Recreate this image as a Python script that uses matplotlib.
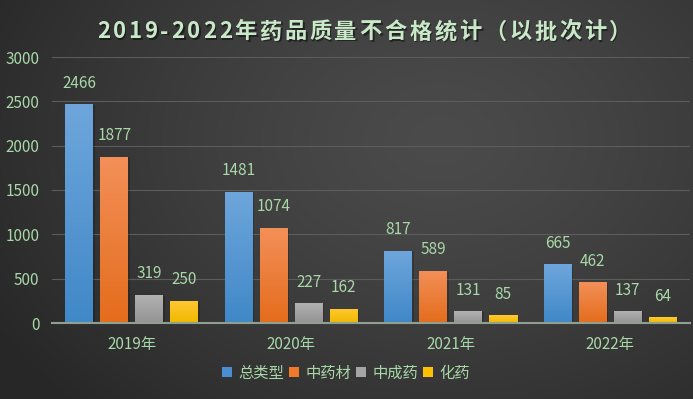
import numpy as np
import matplotlib
matplotlib.use("Agg")
import matplotlib.pyplot as plt
from matplotlib.colors import LinearSegmentedColormap
from matplotlib.patches import Rectangle

plt.rcParams['font.family'] = ['Noto Sans CJK SC', 'DejaVu Sans']

years = ["2019年", "2020年", "2021年", "2022年"]
series_names = ["总类型", "中药材", "中成药", "化药"]
values = {
    "总类型": [2466, 1481, 817, 665],
    "中药材": [1877, 1074, 589, 462],
    "中成药": [319, 227, 131, 137],
    "化药": [250, 162, 85, 64],
}
yticks = [0, 500, 1000, 1500, 2000, 2500, 3000]
title = "2019-2022年药品质量不合格统计（以批次计）"

grad_colors = {
    "总类型": ("#6ea6dc", "#4088c8"),
    "中药材": ("#f39059", "#e46c1c"),
    "中成药": ("#b3b3b3", "#939393"),
    "化药": ("#ffc933", "#f0b800"),
}
legend_colors = {"总类型": "#4a8ed0", "中药材": "#ee7a2a", "中成药": "#a5a5a5", "化药": "#ffc000"}
txt_color = "#a8d8a8"
fs = 11

W, H = 693, 399
fig = plt.figure(figsize=(W / 100, H / 100), dpi=100)

# background radial gradient
bg = fig.add_axes([0, 0, 1, 1])
yy, xx = np.mgrid[0:H, 0:W]
r = np.sqrt(((xx - 440) / 520.0) ** 2 + ((yy - 140) / 380.0) ** 2)
r = np.clip(r, 0, 1)
c0, c1 = 0x4b / 255, 0x27 / 255
g = c0 + (c1 - c0) * r ** 1.3
bg.imshow(np.dstack([g, g, g]), extent=[0, 1, 0, 1], aspect='auto', origin='upper')
bg.set_xlim(0, 1); bg.set_ylim(0, 1)
bg.axis('off')

left, right = 52 / W, 690 / W
bottom, top = 1 - 323 / H, 1 - 57 / H
ax = fig.add_axes([left, bottom, right - left, top - bottom])
ax.patch.set_alpha(0)

n = len(series_names)
step = 35 / 159.5
width = 28 / 159.5
x = np.arange(len(years))
ax.set_xlim(-0.5, len(years) - 0.5)
ax.set_ylim(0, 3000)

grad = np.linspace(0, 1, 256).reshape(-1, 1)
for i, name in enumerate(series_names):
    offs = (i - (n - 1) / 2) * step
    ctop, cbot = grad_colors[name]
    cmap = LinearSegmentedColormap.from_list(name, [cbot, ctop])
    bars = ax.bar(x + offs, values[name], width=width, color=legend_colors[name],
                  zorder=3, label=name)
    for b, v in zip(bars, values[name]):
        bx, bw, bh = b.get_x(), b.get_width(), b.get_height()
        sh = Rectangle((bx + 0.01, 0), bw, max(bh - 10, 0), facecolor='black', alpha=0.18,
                       zorder=2, edgecolor='none')
        ax.add_patch(sh)
        im = ax.imshow(grad, cmap=cmap, extent=[bx, bx + bw, 0, bh], origin='lower',
                       aspect='auto', zorder=3.5)
        im.set_clip_path(b)
        ax.annotate(f"{v}", (bx + bw / 2, bh), xytext=(0, 15), textcoords='offset points',
                    ha='center', va='center', color=txt_color, fontsize=fs, zorder=5)

ax.set_xlim(-0.5, len(years) - 0.5)
ax.set_ylim(0, 3000)
ax.set_yticks(yticks)
ax.set_yticklabels([str(t) for t in yticks], color=txt_color, fontsize=fs)
ax.set_xticks(x)
ax.set_xticklabels(years, color=txt_color, fontsize=fs)
ax.tick_params(axis='y', length=0, pad=9)
ax.tick_params(axis='x', length=0, pad=9)
ax.grid(axis='y', color='#5c5c5c', linewidth=0.8, zorder=0)
for s in ['top', 'right', 'left']:
    ax.spines[s].set_visible(False)
ax.spines['bottom'].set_color('#8fa08f')
ax.spines['bottom'].set_linewidth(1.5)
ax.spines['bottom'].set_zorder(4)

# title with letter spacing and shadow
renderer = fig.canvas.get_renderer()
tfs = 16
spacing = 2.7  # px
widths = []
for ch in title:
    t = fig.text(0, 0, ch, fontsize=tfs, fontweight='bold')
    bb = t.get_window_extent(renderer)
    widths.append(bb.width)
    t.remove()
total = sum(widths) + spacing * (len(title) - 1)
cx = 364
ty = H - 32
xpos = cx - total / 2
for ch, w in zip(title, widths):
    fig.text((xpos + 1.5) / W, (ty - 1.5) / H, ch, fontsize=tfs, fontweight='bold',
             color='black', alpha=0.45, ha='left', va='center')
    fig.text(xpos / W, ty / H, ch, fontsize=tfs, fontweight='bold',
             color='#c8e8c8', ha='left', va='center')
    xpos += w + spacing

handles = [Rectangle((0, 0), 1, 1, facecolor=legend_colors[s], edgecolor='none') for s in series_names]
fig.legend(handles, series_names, loc='center', bbox_to_anchor=(346 / W, 1 - 373 / H),
           ncol=4, frameon=False, fontsize=fs, labelcolor=txt_color,
           handlelength=0.65, handleheight=0.65, handletextpad=0.4, columnspacing=0.35)

fig.savefig("out.png", dpi=100)
